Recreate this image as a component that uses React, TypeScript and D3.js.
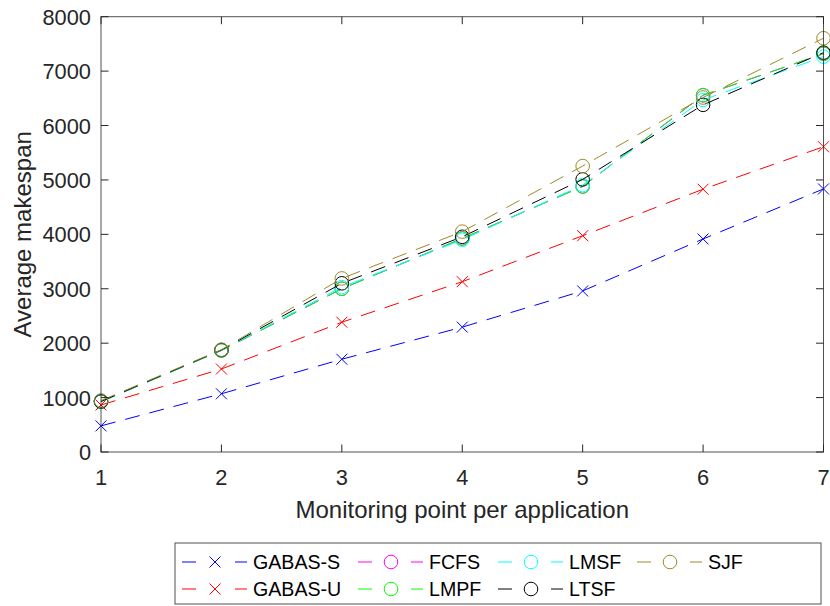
import React from "react";
import * as d3 from "d3";

const xValues = [1, 2, 3, 4, 5, 6, 7];
const gabasS = [480, 1070, 1705, 2295, 2960, 3915, 4835];
const gabasU = [864, 1525, 2385, 3130, 3975, 4830, 5610];
const fcfs = [925, 1865, 3000, 3925, 4880, 6555, 7320];
const lmpf = [925, 1865, 3000, 3925, 4880, 6560, 7320];
const lmsf = [925, 1870, 3030, 3900, 4905, 6470, 7266];
const ltsf = [930, 1875, 3100, 3955, 5010, 6380, 7340];
const sjf = [945, 1880, 3190, 4050, 5255, 6515, 7604];
const yTicks = [0, 1000, 2000, 3000, 4000, 5000, 6000, 7000, 8000];

const series = [
  { name: "GABAS-S", values: gabasS, color: "#0000ff", marker: "x" },
  { name: "GABAS-U", values: gabasU, color: "#ff0000", marker: "x" },
  { name: "FCFS", values: fcfs, color: "#ff00ff", marker: "o" },
  { name: "LMPF", values: lmpf, color: "#00ff00", marker: "o" },
  { name: "LMSF", values: lmsf, color: "#00ffff", marker: "o" },
  { name: "LTSF", values: ltsf, color: "#000000", marker: "o" },
  { name: "SJF", values: sjf, color: "#9d8a26", marker: "o" },
];

const W = 830, H = 606;
const L = 101, R = 823.5, T = 16.7, B = 452;
const FONT = "'Liberation Sans', Arial, Helvetica, sans-serif";
const AX = "#262626";

function Marker({ type, x, y, color }: { type: string; x: number; y: number; color: string }) {
  if (type === "x") {
    const s = 5.5;
    return (
      <path d={`M${x - s},${y - s}L${x + s},${y + s}M${x - s},${y + s}L${x + s},${y - s}`} stroke={color} strokeWidth={1} fill="none" />
    );
  }
  return <circle cx={x} cy={y} r={6.8} stroke={color} strokeWidth={1} fill="none" />;
}

export default function App() {
  const x = d3.scaleLinear().domain([1, 7]).range([L, R]);
  const y = d3.scaleLinear().domain([0, 8000]).range([B, T]);
  const line = d3.line<number>().x((_, i) => x(xValues[i])).y((d) => y(d));

  const legendCols = [182, 358, 498, 637];
  const legendRows = [562, 589];

  return (
    <svg width={W} height={H} style={{ position: "absolute", left: 0, top: 0, background: "#fff" }} fontFamily={FONT}>
      <rect x={0} y={0} width={W} height={H} fill="#fff" />
      {/* data */}
      {series.map((s) => (
        <g key={s.name}>
          <path d={line(s.values) || ""} fill="none" stroke={s.color} strokeWidth={1} strokeDasharray="15,10" />
          {s.values.map((v, i) => (
            <Marker key={i} type={s.marker} x={x(xValues[i])} y={y(v)} color={s.color} />
          ))}
        </g>
      ))}
      {/* axes box */}
      <rect x={L} y={T} width={R - L} height={B - T} fill="none" stroke={AX} strokeWidth={1} opacity={0.8} />
      {xValues.map((t) => (
        <g key={"xt" + t}>
          <line x1={x(t)} x2={x(t)} y1={B} y2={B - 7.5} stroke={AX} />
          <line x1={x(t)} x2={x(t)} y1={T} y2={T + 7.5} stroke={AX} />
          <text x={x(t)} y={485} textAnchor="middle" fontSize={21.8} fill={AX}>{t}</text>
        </g>
      ))}
      {yTicks.map((t) => (
        <g key={"yt" + t}>
          <line x1={L} x2={L + 7.5} y1={y(t)} y2={y(t)} stroke={AX} />
          <line x1={R} x2={R - 7.5} y1={y(t)} y2={y(t)} stroke={AX} />
          <text x={91} y={y(t) + 8} textAnchor="end" fontSize={21.8} fill={AX}>{t}</text>
        </g>
      ))}
      <text x={(L + R) / 2} y={518} textAnchor="middle" fontSize={24} fill={AX}>Monitoring point per application</text>
      <text transform={`translate(31,${(T + B) / 2}) rotate(-90)`} textAnchor="middle" fontSize={24} fill={AX}>Average makespan</text>
      {/* legend */}
      <rect x={175} y={543} width={646} height={61} fill="#fff" stroke={AX} strokeWidth={1} opacity={0.8} />
      {series.map((s, i) => {
        const col = Math.floor(i / 2);
        const row = i % 2;
        const lx = legendCols[col];
        const ly = legendRows[row];
        return (
          <g key={"lg" + s.name}>
            <line x1={lx} x2={lx + 65} y1={ly} y2={ly} stroke={s.color} strokeWidth={1} strokeDasharray="14,39" />
            <Marker type={s.marker} x={lx + 33} y={ly} color={s.color} />
            <text x={lx + 71} y={ly + 7} fontSize={19.6} fill="#000">{s.name}</text>
          </g>
        );
      })}
    </svg>
  );
}
